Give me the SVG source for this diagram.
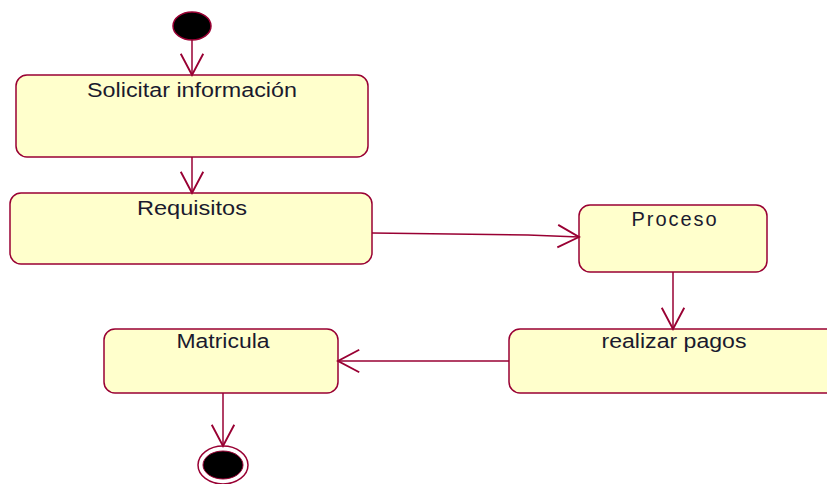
<svg xmlns="http://www.w3.org/2000/svg" width="827" height="484" viewBox="0 0 827 484">
<style>
.box{fill:#ffffcc;stroke:#990033;stroke-width:1.5}
.lbl{font-family:"Liberation Sans",Arial,sans-serif;font-size:20px;fill:#1a1a2e;text-anchor:middle}
.c{fill:none;stroke:#990033;stroke-width:1.5}
</style>
<defs>
<marker id="arr" markerUnits="userSpaceOnUse" markerWidth="30" markerHeight="30" viewBox="-20 -12 24 24" refX="0" refY="0" orient="auto">
<path d="M-17,-9 L0,0 L-17,9" fill="none" stroke="#990033" stroke-width="1.5"/>
</marker>
</defs>
<g id="start"><ellipse cx="192" cy="26" rx="19" ry="14" fill="#000" stroke="#990033" stroke-width="1.5"/></g>
<g id="solicitar"><rect class="box" x="16" y="75" width="352" height="82" rx="11"/><text class="lbl" x="192" y="97" textLength="210" lengthAdjust="spacingAndGlyphs">Solicitar información</text></g>
<g id="requisitos"><rect class="box" x="10" y="193" width="362" height="71" rx="11"/><text class="lbl" x="192" y="215" textLength="110" lengthAdjust="spacingAndGlyphs">Requisitos</text></g>
<g id="proceso"><rect class="box" x="579" y="205" width="188" height="67" rx="11"/><text class="lbl" x="674" y="226" textLength="85" lengthAdjust="spacing">Proceso</text></g>
<g id="pagos"><rect class="box" x="509" y="329" width="340" height="64" rx="11"/><text class="lbl" x="674" y="348" textLength="145" lengthAdjust="spacingAndGlyphs">realizar pagos</text></g>
<g id="matricula"><rect class="box" x="104" y="329" width="234" height="64" rx="11"/><text class="lbl" x="223" y="348" textLength="93" lengthAdjust="spacingAndGlyphs">Matricula</text></g>
<g id="end"><ellipse cx="223" cy="465" rx="25" ry="19" fill="#fff" stroke="#990033" stroke-width="1.5"/><ellipse cx="223" cy="465" rx="20" ry="14" fill="#000" stroke="#990033" stroke-width="1"/></g>
<g id="connectors">
<line class="c" x1="192" y1="40" x2="192" y2="75" marker-end="url(#arr)"/>
<line class="c" x1="192" y1="157" x2="192" y2="193" marker-end="url(#arr)"/>
<polyline class="c" points="372,233 528,235 579,237" marker-end="url(#arr)"/>
<line class="c" x1="673" y1="272" x2="673" y2="329" marker-end="url(#arr)"/>
<line class="c" x1="509" y1="361" x2="338" y2="361" marker-end="url(#arr)"/>
<line class="c" x1="223" y1="393" x2="223" y2="446" marker-end="url(#arr)"/>
</g>
</svg>
